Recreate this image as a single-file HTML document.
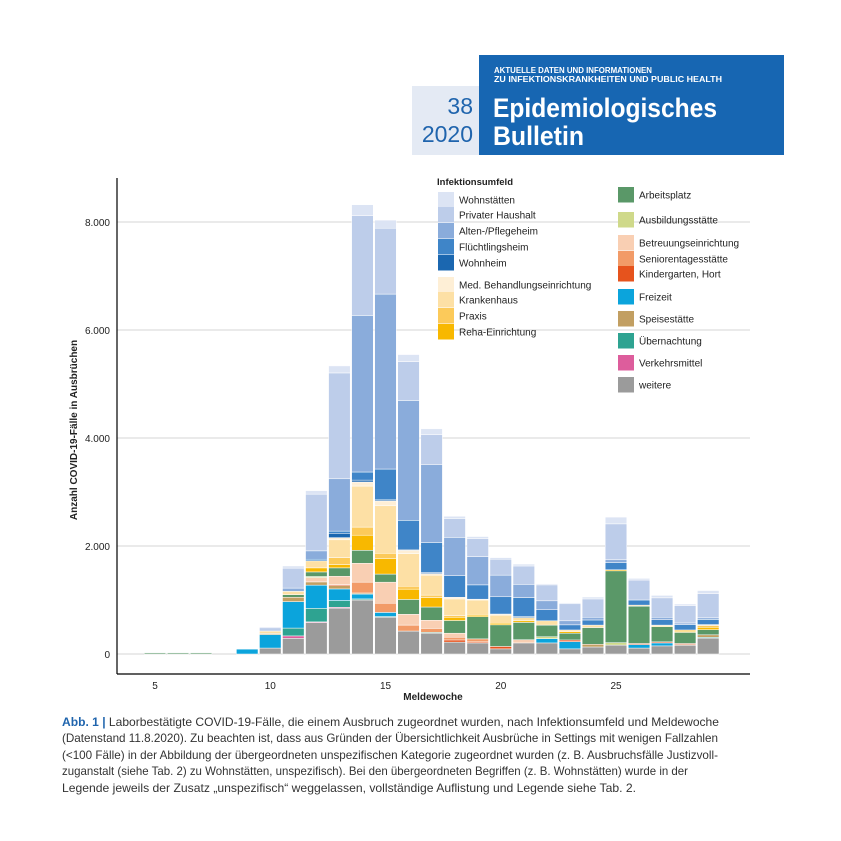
<!DOCTYPE html>
<html><head><meta charset="utf-8">
<style>
body{margin:0;background:#fff;width:841px;height:841px;overflow:hidden;font-family:"Liberation Sans",sans-serif;}
svg{position:absolute;left:0;top:0;}
</style></head>
<body>
<svg id="chart" width="841" height="841" viewBox="0 0 841 841" xmlns="http://www.w3.org/2000/svg">
  <g>
    <rect x="412" y="86" width="67" height="69" fill="#e4eaf4"/>
    <text x="473" y="114" text-anchor="end" font-size="23" fill="#1f64ad">38</text>
    <text x="473" y="142" text-anchor="end" font-size="23" fill="#1f64ad">2020</text>
    <rect x="479" y="55" width="305" height="100" fill="#1766b2"/>
    <text x="494" y="73" font-size="8" font-weight="bold" fill="#fff" textLength="158" lengthAdjust="spacingAndGlyphs">AKTUELLE DATEN UND INFORMATIONEN</text>
    <text x="494" y="82" font-size="8" font-weight="bold" fill="#fff" textLength="228" lengthAdjust="spacingAndGlyphs">ZU INFEKTIONSKRANKHEITEN UND PUBLIC HEALTH</text>
    <text x="493" y="117" font-size="27" font-weight="bold" fill="#fff" textLength="224" lengthAdjust="spacingAndGlyphs">Epidemiologisches</text>
    <text x="493" y="145" font-size="27" font-weight="bold" fill="#fff" textLength="91" lengthAdjust="spacingAndGlyphs">Bulletin</text>
  </g>
  <g id="grid"></g>
  <g id="bars"></g>
  <g id="axes">
    <line x1="117" y1="178" x2="117" y2="674" stroke="#000" stroke-width="1.2"/>
    <line x1="117" y1="674" x2="750" y2="674" stroke="#000" stroke-width="1.2"/>
    <text x="77" y="430" font-size="10" font-weight="bold" fill="#222" text-anchor="middle" transform="rotate(-90 77 430)">Anzahl COVID-19-Fälle in Ausbrüchen</text>
    <text x="433" y="700" font-size="10" font-weight="bold" fill="#222" text-anchor="middle">Meldewoche</text>
  </g>
  <g id="legend">
    <text x="437" y="185" font-size="9.5" font-weight="bold" fill="#222">Infektionsumfeld</text>
  </g>
  <g font-size="11.6" fill="#333">
    <text x="62" y="726" textLength="657" lengthAdjust="spacingAndGlyphs"><tspan fill="#1f64ad" font-weight="bold">Abb. 1 |</tspan> Laborbestätigte COVID-19-Fälle, die einem Ausbruch zugeordnet wurden, nach Infektionsumfeld und Meldewoche</text>
    <text x="62" y="742" textLength="656" lengthAdjust="spacingAndGlyphs">(Datenstand 11.8.2020). Zu beachten ist, dass aus Gründen der Übersichtlichkeit Ausbrüche in Settings mit wenigen Fallzahlen</text>
    <text x="62" y="759" textLength="656" lengthAdjust="spacingAndGlyphs">(&lt;100 Fälle) in der Abbildung der übergeordneten unspezifischen Kategorie zugeordnet wurden (z. B. Ausbruchsfälle Justizvoll-</text>
    <text x="62" y="775" textLength="626" lengthAdjust="spacingAndGlyphs">zuganstalt (siehe Tab. 2) zu Wohnstätten, unspezifisch). Bei den übergeordneten Begriffen (z. B. Wohnstätten) wurde in der</text>
    <text x="62" y="792" textLength="574" lengthAdjust="spacingAndGlyphs">Legende jeweils der Zusatz „unspezifisch“ weggelassen, vollständige Auflistung und Legende siehe Tab. 2.</text>
  </g>
</svg>
<script>
const weeks = [5,6,7,8,9,10,11,12,13,14,15,16,17,18,19,20,21,22,23,24,25,26,27,28,29];
const yTicks = [0,2000,4000,6000,8000];
const yTickLabels = ["0","2.000","4.000","6.000","8.000"];
const xTicks = [5,10,15,20,25];
const weitere  = [0,0,0,0,0,110,290,580,850,1000,685,425,390,220,205,95,205,205,95,130,165,110,150,165,295];
const verkehr  = [0,0,0,0,0,0,45,15,15,0,0,0,0,0,0,0,0,0,0,0,0,0,0,0,0];
const uebern   = [0,0,0,0,0,0,145,250,125,20,10,0,10,0,0,0,0,0,0,0,0,0,0,0,15];
const freizeit = [0,0,0,0,90,250,490,430,215,90,75,0,0,0,0,0,0,80,135,0,0,65,55,0,0];
const speise   = [0,0,0,0,0,20,80,60,60,20,0,0,0,0,0,0,0,0,0,50,0,0,0,10,45];
const kinder   = [0,0,0,0,0,0,0,0,20,0,0,0,0,40,20,45,0,0,30,0,0,20,20,20,0];
const senior   = [0,0,0,0,0,0,0,0,0,200,170,110,75,50,55,0,0,0,0,0,0,0,0,0,0];
const betreu   = [0,0,0,0,0,0,0,80,155,350,390,200,150,75,0,0,60,0,0,0,0,0,0,0,0];
const ausbild  = [0,0,0,0,0,0,0,20,0,0,0,0,0,0,0,0,0,35,0,0,45,0,0,0,0];
const arbeit   = [20,20,20,0,0,0,50,85,155,240,150,275,245,235,410,400,320,215,125,310,1330,690,280,205,95];
const reha     = [0,0,0,0,0,0,0,75,60,280,290,190,175,60,30,30,30,0,30,0,20,0,15,20,45];
const praxis   = [0,0,0,0,0,0,0,0,130,150,95,55,45,30,0,0,0,0,0,0,0,0,15,25,30];
const krank    = [0,0,0,0,0,45,60,130,330,760,880,605,370,310,280,150,60,80,30,45,0,20,0,0,20];
const med      = [0,0,0,0,0,0,0,0,40,75,90,60,30,30,15,20,0,0,0,0,0,0,0,0,0];
const wohnheim = [0,0,0,0,0,0,0,0,80,35,20,20,20,0,0,0,20,0,0,0,0,0,0,0,0];
const fluecht  = [0,0,0,0,0,0,0,30,40,150,570,535,555,400,265,320,350,205,95,95,135,95,100,100,95];
const alten    = [0,0,0,0,0,0,60,155,970,2900,3240,2220,1440,710,525,400,245,165,75,50,50,0,45,30,30];
const privat   = [0,0,0,0,0,60,370,1050,1960,1850,1220,720,555,350,330,295,340,295,315,340,665,370,360,320,450];
const wohnst   = [0,0,0,0,0,20,40,65,130,200,150,130,110,40,40,30,35,20,20,35,125,30,45,30,55];

const series = [
 {key:"weitere",vals:weitere,color:"#9b9b9b",label:"weitere"},
 {key:"verkehrsmittel",vals:verkehr,color:"#dd5d9c",label:"Verkehrsmittel"},
 {key:"uebernachtung",vals:uebern,color:"#2ea391",label:"Übernachtung"},
 {key:"freizeit",vals:freizeit,color:"#0ba4dc",label:"Freizeit"},
 {key:"speisestaette",vals:speise,color:"#c29f62",label:"Speisestätte"},
 {key:"kindergarten",vals:kinder,color:"#e6531d",label:"Kindergarten, Hort"},
 {key:"seniorentagesstaette",vals:senior,color:"#f29b68",label:"Seniorentagesstätte"},
 {key:"betreuung",vals:betreu,color:"#f9cfb3",label:"Betreuungseinrichtung"},
 {key:"ausbildung",vals:ausbild,color:"#cfd98a",label:"Ausbildungsstätte"},
 {key:"arbeitsplatz",vals:arbeit,color:"#5a9868",label:"Arbeitsplatz"},
 {key:"reha",vals:reha,color:"#f8b800",label:"Reha-Einrichtung"},
 {key:"praxis",vals:praxis,color:"#fcca5a",label:"Praxis"},
 {key:"krankenhaus",vals:krank,color:"#fde0a5",label:"Krankenhaus"},
 {key:"med",vals:med,color:"#feefd6",label:"Med. Behandlungseinrichtung"},
 {key:"wohnheim",vals:wohnheim,color:"#1b67b0",label:"Wohnheim"},
 {key:"fluechtlingsheim",vals:fluecht,color:"#3f85c8",label:"Flüchtlingsheim"},
 {key:"altenheim",vals:alten,color:"#8aacdb",label:"Alten-/Pflegeheim"},
 {key:"privat",vals:privat,color:"#bdcdea",label:"Privater Haushalt"},
 {key:"wohnstaetten",vals:wohnst,color:"#dce4f4",label:"Wohnstätten"}
];
const NS="http://www.w3.org/2000/svg";
function xScale(w){return 155+(w-5)*23.05;}
function yScale(v){return 654-v*0.054;}
function mk(tag,attrs,parent){const e=document.createElementNS(NS,tag);for(const k in attrs)e.setAttribute(k,attrs[k]);parent.appendChild(e);return e;}

const grid=document.getElementById('grid');
const axes=document.getElementById('axes');
yTicks.forEach((t,i)=>{
  const l=mk('line',{x1:117,x2:750,y1:yScale(t),y2:yScale(t),stroke:'#d4d4d4','stroke-width':1},grid);
  
  
  const tx=mk('text',{x:110,y:yScale(t)+4,'text-anchor':'end','font-size':10,fill:'#222'},axes);
  tx.textContent=yTickLabels[i];
  
  
});
xTicks.forEach(t=>{
  const tx=mk('text',{x:xScale(t),y:689,'text-anchor':'middle','font-size':10,fill:'#222'},axes);
  tx.textContent=t;
  
  
});
const bars=document.getElementById('bars');
const bw=21.6;
weeks.forEach((w,i)=>{
  let cum=0;
  series.forEach(s=>{
    const v=s.vals[i];
    if(!v)return;
    const y0=yScale(cum),y1=yScale(cum+v);
    const r=mk('rect',{x:xScale(w)-bw/2,y:y1,width:bw,height:Math.max(0.8,y0-y1),fill:s.color,stroke:'#fff','stroke-width':0.5},bars);
    
    
    cum+=v;
  });
});
const legend=document.getElementById('legend');
const leftLeg=[["wohnstaetten",200],["privat",215],["altenheim",231],["fluechtlingsheim",247],["wohnheim",263],["med",285],["krankenhaus",300],["praxis",316],["reha",332]];
const rightLeg=[["arbeitsplatz",195],["ausbildung",220],["betreuung",243],["seniorentagesstaette",259],["kindergarten",274],["freizeit",297],["speisestaette",319],["uebernachtung",341],["verkehrsmittel",363],["weitere",385]];
function legItem(key,cy,sx,tx){
  const s=series.find(q=>q.key===key);
  const sw=mk('rect',{x:sx,y:cy-8,width:16,height:15.5,fill:s.color},legend);
  
  
  const t=mk('text',{x:tx,y:cy+3.5,'font-size':10,fill:'#222'},legend);
  t.textContent=s.label;
  
  
}
leftLeg.forEach(([k,y])=>legItem(k,y,438,459));
rightLeg.forEach(([k,y])=>legItem(k,y,618,639));
</script>
</body></html>
